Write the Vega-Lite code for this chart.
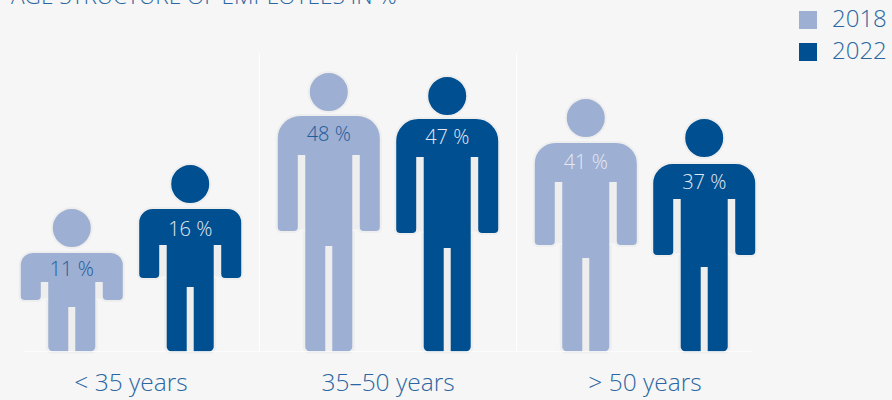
{
  "$schema": "https://vega.github.io/schema/vega-lite/v6.json",
  "width": 892,
  "height": 352,
  "autosize": {"type": "none"},
  "padding": {"left": 0, "right": 0, "top": 0, "bottom": 48},
  "background": "#f6f6f6",
  "title": {"text": "AGE STRUCTURE OF EMPLOYEES IN %", "anchor": "start", "frame": "group", "dx": 11, "offset": -9, "fontSize": 22.6, "fontWeight": 300, "font": "Open Sans", "color": "#2a66a2"},
  "config": {"view": {"stroke": null}, "font": "Open Sans"},
  "datasets": {
    "shares": [
      {"group": "< 35 years", "year": "2018", "share": 11},
      {"group": "< 35 years", "year": "2022", "share": 16},
      {"group": "35–50 years", "year": "2018", "share": 48},
      {"group": "35–50 years", "year": "2022", "share": 47},
      {"group": "> 50 years", "year": "2018", "share": 41},
      {"group": "> 50 years", "year": "2022", "share": 37}
    ],
    "groups": [
      {"group": "< 35 years"},
      {"group": "35–50 years"},
      {"group": "> 50 years"}
    ]
  },
  "data": {"name": "shares"},
  "encoding": {
    "x": {
      "field": "group", "type": "nominal", "title": null,
      "sort": ["< 35 years", "35–50 years", "> 50 years"],
      "scale": {"domain": ["< 35 years", "35–50 years", "> 50 years"], "range": [2.5, 773.5], "padding": 0},
      "axis": {"domain": false, "ticks": false, "labelAngle": 0, "labelFontSize": 24.5, "labelFontWeight": 300, "labelFont": "Open Sans", "labelColor": "#2a66a2", "labelPadding": 31, "labelBaseline": "middle"}
    },
    "xOffset": {"field": "year", "type": "nominal", "scale": {"domain": ["2018", "2022"], "paddingInner": 0, "paddingOuter": 0.085}}
  },
  "layer": [
    {
      "description": "Shoulder block, full figure width",
      "mark": {"type": "bar", "size": 104, "stroke": "#eeeeee", "strokeWidth": 2, "cornerRadiusTopLeft": {"expr": "10 + datum.share * 0.28"}, "cornerRadiusTopRight": {"expr": "10 + datum.share * 0.28"}},
      "encoding": {
        "y": {"field": "share", "type": "quantitative", "stack": null, "axis": null, "scale": {"domain": [0, 11, 16, 37, 41, 47, 48], "range": [351.5, 252, 208, 163, 142, 118, 115]}},
        "color": {"field": "year", "type": "nominal", "title": null, "scale": {"domain": ["2018", "2022"], "range": ["#9dafd2", "#004f91"]}, "legend": {"orient": "none", "legendX": 796, "legendY": 8, "symbolType": "square", "symbolSize": 324, "symbolStrokeWidth": 0, "labelFontSize": 24, "labelFont": "Open Sans", "labelFontWeight": 300, "labelColor": "#2a66a2", "labelOffset": 12, "rowPadding": 8}}
      }
    },
    {
      "description": "Armpit gaps: a band wider than the torso, which is painted over its middle later",
      "mark": {"type": "bar", "size": 62, "color": "#eeeeee"},
      "encoding": {"y": {"field": "share", "type": "quantitative", "stack": null, "axis": null, "scale": {"domain": [0, 11, 16, 37, 41, 47, 48], "range": [351.5, 282, 245, 199, 182, 157, 155]}}}
    },
    {
      "description": "Clears everything below the hands",
      "mark": {"type": "bar", "size": 110, "color": "#f6f6f6", "stroke": "#f6f6f6", "strokeWidth": 3},
      "encoding": {"y": {"field": "share", "type": "quantitative", "stack": null, "axis": null, "scale": {"domain": [0, 11, 16, 37, 41, 47, 48], "range": [351.5, 300, 278, 255, 245, 233, 231]}}}
    },
    {
      "description": "Halo beside the lower body",
      "mark": {"type": "bar", "size": 52, "color": "#eeeeee", "cornerRadiusBottomLeft": 6, "cornerRadiusBottomRight": 6},
      "encoding": {"y": {"field": "share", "type": "quantitative", "stack": null, "axis": null, "scale": {"domain": [0, 11, 16, 37, 41, 47, 48], "range": [353.5, 300, 278, 255, 245, 233, 231]}}}
    },
    {
      "description": "Both hands in one symbol, rounded at the bottom and open at the top",
      "mark": {"type": "point", "filled": true, "opacity": 1, "size": 40000, "stroke": "#eeeeee", "strokeWidth": 2, "shape": "M-0.52,-0.14V-0.05Q-0.52,0,-0.47,0H-0.35Q-0.30,0,-0.30,-0.05V-0.14M0.30,-0.14V-0.05Q0.30,0,0.35,0H0.47Q0.52,0,0.52,-0.05V-0.14"},
      "encoding": {
        "y": {"field": "share", "type": "quantitative", "axis": null, "scale": {"domain": [0, 11, 16, 37, 41, 47, 48], "range": [351.5, 301, 279, 256, 246, 234, 232]}},
        "color": {"field": "year", "type": "nominal", "legend": null}
      }
    },
    {
      "description": "Torso and legs",
      "mark": {"type": "bar", "size": 47, "cornerRadiusBottomLeft": 5, "cornerRadiusBottomRight": 5},
      "encoding": {
        "y": {"field": "share", "type": "quantitative", "stack": null, "axis": null, "scale": {"domain": [0, 11, 16, 37, 41, 47, 48], "range": [351.5, 275, 238, 192, 175, 150, 148]}},
        "color": {"field": "year", "type": "nominal", "legend": null}
      }
    },
    {
      "description": "Gap between the legs",
      "mark": {"type": "bar", "size": 7, "color": "#eeeeee"},
      "encoding": {"y": {"field": "share", "type": "quantitative", "stack": null, "axis": null, "scale": {"domain": [0, 11, 16, 37, 41, 47, 48], "range": [352, 307, 287, 267, 258, 248, 246]}}}
    },
    {
      "description": "Head",
      "mark": {"type": "point", "shape": "circle", "filled": true, "opacity": 1, "size": 1600, "stroke": "#eeeeee", "strokeWidth": 2},
      "encoding": {
        "y": {"field": "share", "type": "quantitative", "axis": null, "scale": {"domain": [0, 11, 16, 37, 41, 47, 48], "range": [351.5, 228, 184, 138, 118, 96, 92]}},
        "color": {"field": "year", "type": "nominal", "legend": null}
      }
    },
    {
      "description": "Share printed on the chest",
      "transform": [{"calculate": "datum.share + ' %'", "as": "label"}],
      "mark": {"type": "text", "font": "Open Sans", "fontSize": 20, "fontWeight": 300, "baseline": "alphabetic", "align": "center"},
      "encoding": {
        "y": {"field": "share", "type": "quantitative", "axis": null, "scale": {"domain": [0, 11, 16, 37, 41, 47, 48], "range": [351.5, 276, 236, 189, 169, 144, 141]}},
        "text": {"field": "label"},
        "color": {"condition": {"test": "datum.year == '2022' || datum.share == 41", "value": "#e3e9f2"}, "value": "#1f5c9c"}
      }
    },
    {
      "description": "Separators between the age groups",
      "data": {"name": "groups"},
      "transform": [{"filter": "datum.group != '< 35 years'"}],
      "mark": {"type": "rule", "color": "#ffffff", "strokeWidth": 1},
      "encoding": {
        "xOffset": null,
        "x": {"field": "group", "type": "nominal", "bandPosition": 0},
        "y": {"datum": 0, "type": "quantitative", "axis": null, "scale": {"domain": [0, 1], "range": [351.5, 53]}},
        "y2": {"datum": 1}
      }
    },
    {
      "description": "Baseline under the figures",
      "data": {"name": "groups"},
      "mark": {"type": "tick", "orient": "horizontal", "color": "#ffffff", "thickness": 1,
        "size": {"expr": "datum.group == '35–50 years' ? 257 : 236"},
        "xOffset": {"expr": "datum.group == '< 35 years' ? 10.5 : datum.group == '> 50 years' ? -10.5 : 0"}},
      "encoding": {
        "xOffset": null,
        "x": {"field": "group", "type": "nominal"},
        "y": {"datum": 0, "type": "quantitative", "axis": null, "scale": {"domain": [0, 1], "range": [351.5, 53]}}
      }
    }
  ],
  "resolve": {"scale": {"y": "independent"}, "axis": {"y": "independent"}}
}
